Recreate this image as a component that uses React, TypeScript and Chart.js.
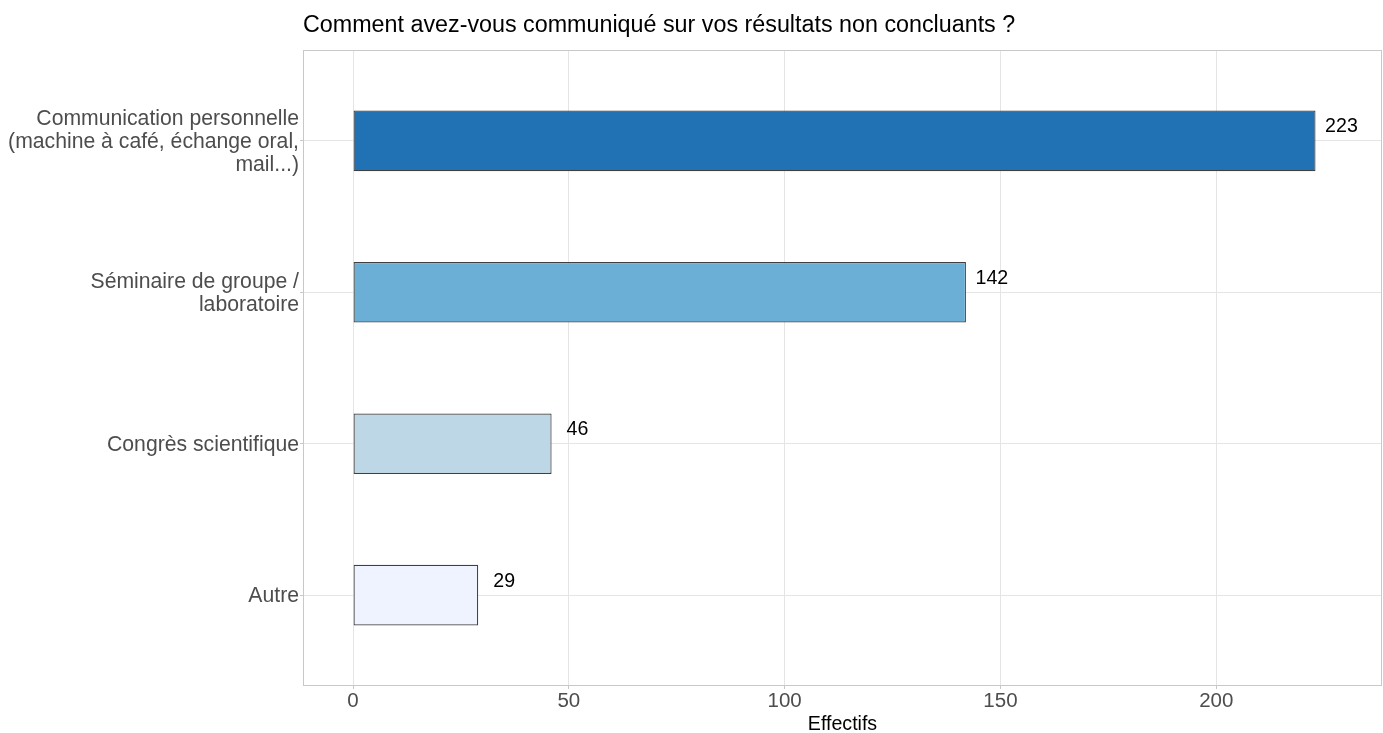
import React, { useEffect, useRef } from "react";
import { Chart, registerables } from "chart.js";

Chart.register(...registerables);

const TITLE = "Comment avez-vous communiqué sur vos résultats non concluants ?";
const X_TITLE = "Effectifs";
const CATEGORIES: string[][] = [
  ["Communication personnelle", "(machine à café, échange oral,", "mail...)"],
  ["Séminaire de groupe /", "laboratoire"],
  ["Congrès scientifique"],
  ["Autre"],
];
const VALUES = [223, 142, 46, 29];
const COLORS = ["#2171B5", "#6BAED6", "#BDD7E7", "#EFF3FF"];
const X_TICKS = [0, 50, 100, 150, 200];
const X_MIN = -11.6;
const X_MAX = 238.4;
const LABEL_NUDGE = 6;

const FONT = "'Liberation Sans', Arial, sans-serif";

export default function App() {
  const ref = useRef<HTMLCanvasElement | null>(null);

  useEffect(() => {
    document.body.style.margin = "0";
    const canvas = ref.current;
    if (!canvas) return;

    const overlay = {
      id: "overlay",
      beforeDatasetsDraw(chart: any) {
        const { ctx, chartArea } = chart;
        ctx.save();
        ctx.strokeStyle = "#C8C8C8";
        ctx.lineWidth = 1;
        ctx.strokeRect(
          chartArea.left + 0.5,
          chartArea.top + 0.5,
          chartArea.right - chartArea.left - 1,
          chartArea.bottom - chartArea.top - 1
        );
        ctx.restore();
      },
      afterDraw(chart: any) {
        const { ctx, chartArea } = chart;
        const xs = chart.scales.x;
        const meta = chart.getDatasetMeta(0);
        ctx.save();
        ctx.fillStyle = "#000000";
        ctx.font = `19.6px ${FONT}`;
        ctx.textAlign = "center";
        ctx.textBaseline = "middle";
        meta.data.forEach((bar: any, i: number) => {
          const x = xs.getPixelForValue(VALUES[i] + LABEL_NUDGE);
          ctx.fillText(String(VALUES[i]), x, bar.y - 14);
        });
        ctx.font = `23.3px ${FONT}`;
        ctx.textAlign = "left";
        ctx.textBaseline = "alphabetic";
        ctx.fillText(TITLE, chartArea.left, 32);
        ctx.restore();
      },
    };

    const chart = new Chart(canvas, {
      type: "bar",
      data: {
        datasets: [
          {
            data: VALUES.map((v, i) => ({ x: v, y: i })),
            backgroundColor: COLORS,
            borderColor: "#404040",
            borderWidth: 1.2,
            borderSkipped: false,
            categoryPercentage: 1,
            barPercentage: 0.4,
          },
        ],
      },
      options: {
        indexAxis: "y",
        animation: false,
        responsive: false,
        maintainAspectRatio: false,
        layout: { padding: { left: 0, right: 1, top: 50, bottom: 0 } },
        plugins: {
          legend: { display: false },
          tooltip: { enabled: false },
          title: { display: false },
        },
        scales: {
          x: {
            type: "linear",
            position: "bottom",
            offset: false,
            min: X_MIN,
            max: X_MAX,
            afterBuildTicks: (scale: any) => {
              scale.ticks = X_TICKS.map((v) => ({ value: v }));
            },
            afterFit: (scale: any) => {
              scale.height = 47;
            },
            grid: {
              offset: false,
              color: "#E5E5E5",
              lineWidth: 1,
              drawTicks: true,
              tickLength: 3,
              tickColor: "#C8C8C8",
            },
            border: { display: false },
            ticks: {
              color: "#4D4D4D",
              font: { family: FONT, size: 20.5 },
              padding: 0,
              maxRotation: 0,
            },
            title: {
              display: true,
              text: X_TITLE,
              color: "#000000",
              font: { family: FONT, size: 19.6, lineHeight: 0.85 },
              padding: { top: 0, bottom: 0 },
            },
          },
          y: {
            type: "linear",
            position: "left",
            reverse: true,
            offset: false,
            min: -0.6,
            max: 3.6,
            afterBuildTicks: (scale: any) => {
              scale.ticks = CATEGORIES.map((_, i) => ({ value: i }));
            },
            afterFit: (scale: any) => {
              scale.width = 303;
            },
            grid: {
              offset: false,
              color: "#E5E5E5",
              lineWidth: 1,
              drawTicks: true,
              tickLength: 3,
              tickColor: "#C8C8C8",
            },
            border: { display: false },
            ticks: {
              color: "#4D4D4D",
              font: { family: FONT, size: 21.2, lineHeight: 1.085 },
              padding: 1,
              labelOffset: 1.5,
              callback: (v: any) => CATEGORIES[Math.round(Number(v))] ?? "",
            },
          },
        },
      },
      plugins: [overlay],
    });

    return () => chart.destroy();
  }, []);

  return (
    <div style={{ position: "absolute", left: 0, top: 0, width: 1383, height: 733 }}>
      <canvas ref={ref} width={1383} height={733} style={{ width: 1383, height: 733 }} />
    </div>
  );
}
